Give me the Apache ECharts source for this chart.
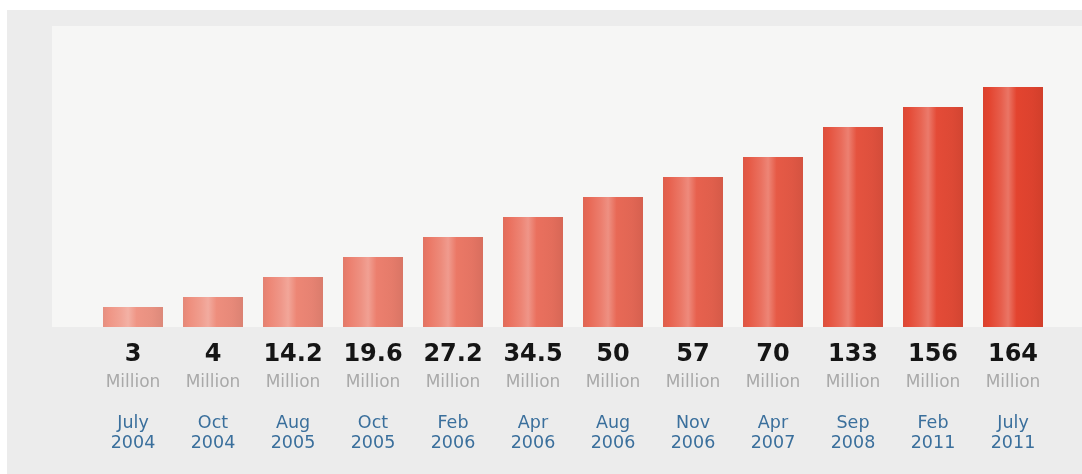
<!DOCTYPE html>
<html>
<head>
<meta charset="utf-8">
<script src="https://cdn.jsdelivr.net/npm/echarts@6/dist/echarts.min.js"></script>
<style>
html,body{margin:0;padding:0;background:#ffffff;}
#chart{width:1082px;height:474px;}
</style>
</head>
<body>
<div id="chart"></div>
<script>
// Data
const months = ['July','Oct','Aug','Oct','Feb','Apr','Aug','Nov','Apr','Sep','Feb','July'];
const years = ['2004','2004','2005','2005','2006','2006','2006','2006','2007','2008','2011','2011'];
const valueLabels = ['3','4','14.2','19.6','27.2','34.5','50','57','70','133','156','164'];
// Bars in the original are drawn as a stepped (not-to-scale) display; heights
const barHeights = [20,30,50,70,90,110,130,150,170,200,220,240];

const categories = months.map((m,i) => m + ' ' + years[i]);

function hex(c){return [parseInt(c.slice(1,3),16),parseInt(c.slice(3,5),16),parseInt(c.slice(5,7),16)];}
function toHex(a){return '#'+a.map(v=>Math.max(0,Math.min(255,Math.round(v))).toString(16).padStart(2,'0')).join('');}
function mix(a,b,t){return a.map((v,i)=>v+(b[i]-v)*t);}
function lighten(a,t){return mix(a,[255,255,255],t);}
function darken(a,t){return mix(a,[0,0,0],t);}
const cStart = hex('#ef9585');
const cEnd = hex('#e3442f');
function barColor(i){
  const c = mix(cStart,cEnd,i/(barHeights.length-1));
  return new echarts.graphic.LinearGradient(0,0,1,0,[
    {offset:0,color:toHex(darken(c,0.04))},
    {offset:0.1,color:toHex(c)},
    {offset:0.3,color:toHex(lighten(c,0.14))},
    {offset:0.42,color:toHex(lighten(c,0.26))},
    {offset:0.56,color:toHex(c)},
    {offset:0.82,color:toHex(darken(c,0.03))},
    {offset:1,color:toHex(darken(c,0.08))}
  ]);
}

const chart = echarts.init(document.getElementById('chart'), null, {renderer:'canvas'});
chart.setOption({
  animation:false,
  backgroundColor:'#ffffff',
  graphic:[
    {type:'rect',z:-10,shape:{x:7,y:10,width:1075,height:464},style:{fill:'#ececec'},silent:true},
    {type:'rect',z:-9,shape:{x:52,y:26,width:1030,height:301},style:{fill:'#f6f6f5'},silent:true}
  ],
  grid:{left:93,width:960,top:27,height:300,containLabel:false},
  xAxis:{
    type:'category',
    data:categories,
    axisLine:{show:false},
    axisTick:{show:false},
    axisLabel:{
      interval:0,
      margin:14,
      formatter:function(v,i){
        return '{v|'+valueLabels[i]+'}\n{m|Million}\n{g| }\n{d|'+months[i]+'}\n{d|'+years[i]+'}';
      },
      rich:{
        v:{fontFamily:'DejaVu Sans',fontWeight:'bold',fontSize:24,color:'#151515',lineHeight:28,align:'center'},
        m:{fontFamily:'DejaVu Sans',fontSize:17,color:'#a9a9a9',lineHeight:28,align:'center'},
        g:{fontSize:2,lineHeight:16},
        d:{fontFamily:'DejaVu Sans',fontSize:17.5,color:'#3a6f9c',lineHeight:20,align:'center'}
      }
    }
  },
  yAxis:{type:'value',min:0,max:300,show:false,splitLine:{show:false}},
  series:[{
    type:'bar',
    barWidth:60,
    data:barHeights.map((h,i)=>({value:h,itemStyle:{color:barColor(i)}})),
    itemStyle:{borderWidth:0}
  }]
});
</script>
</body>
</html>
